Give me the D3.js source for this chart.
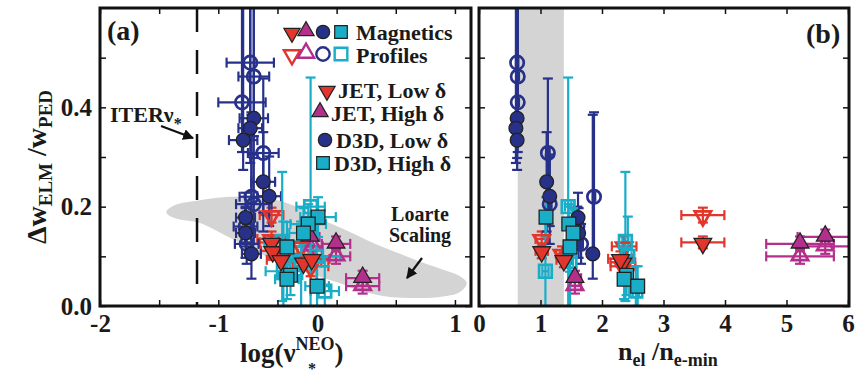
<!DOCTYPE html>
<html>
<head>
<meta charset="utf-8">
<script src="https://cdn.jsdelivr.net/npm/d3@7"></script>
<style>
  body { margin: 0; background: #fff; }
  text { font-family: "Liberation Serif", "Times New Roman", serif; font-weight: bold; fill: #1a1a1a; }
</style>
</head>
<body>
<svg id="chart" width="858" height="377"></svg>
<script>
// rows: [log nu*, ne/ne-min, dW/W, err log nu, err ne, err dW low, err dW high]
const jetLowMag = [
  [-0.55, 3.64, 0.128, 0.10, 0.35, 0.012, 0.012],
  [-0.54, 1.02, 0.111, 0.10, 0.10, 0.015, 0.015],
  [-0.47, 1.38, 0.093, 0.12, 0.12, 0.015, 0.015],
  [-0.28, 2.34, 0.088, 0.15, 0.20, 0.015, 0.015],
  [-0.21, 2.30, 0.095, 0.15, 0.20, 0.015, 0.015]
];
const jetLowProf = [
  [-0.55, 3.64, 0.183, 0.10, 0.35, 0.015, 0.015],
  [-0.55, 1.02, 0.135, 0.12, 0.10, 0.015, 0.015],
  [-0.45, 1.35, 0.105, 0.12, 0.10, 0.015, 0.015],
  [-0.30, 2.36, 0.120, 0.18, 0.20, 0.020, 0.020],
  [-0.22, 2.34, 0.080, 0.15, 0.20, 0.020, 0.020]
];
const jetHighMag = [
  [-0.225, 5.63, 0.139, 0.08, 0.45, 0.015, 0.015],
  [-0.005, 5.22, 0.125, 0.12, 0.55, 0.015, 0.015],
  [0.22, 1.56, 0.056, 0.14, 0.10, 0.015, 0.015]
];
const jetHighProf = [
  [-0.20, 5.63, 0.120, 0.08, 0.45, 0.015, 0.015],
  [-0.005, 5.22, 0.100, 0.12, 0.55, 0.015, 0.015],
  [0.22, 1.56, 0.040, 0.14, 0.10, 0.015, 0.015]
];
const d3dLowMag = [
  [-0.70, 0.62, 0.378, 0.12, 0.02, 0.08, 0.30],
  [-0.73, 0.60, 0.358, 0.10, 0.02, 0.07, 0.30],
  [-0.79, 0.62, 0.334, 0.12, 0.02, 0.06, 0.30],
  [-0.62, 1.10, 0.250, 0.10, 0.02, 0.10, 0.10],
  [-0.57, 1.15, 0.221, 0.10, 0.02, 0.06, 0.08],
  [-0.77, 1.61, 0.178, 0.08, 0.02, 0.05, 0.05],
  [-0.77, 1.62, 0.147, 0.08, 0.02, 0.05, 0.05],
  [-0.72, 1.85, 0.105, 0.08, 0.02, 0.05, 0.28]
];
const d3dLowProf = [
  [-0.73, 0.62, 0.490, 0.20, 0.02, 0.15, 0.30],
  [-0.70, 0.63, 0.462, 0.13, 0.02, 0.12, 0.20],
  [-0.80, 0.63, 0.410, 0.20, 0.02, 0.10, 0.20],
  [-0.62, 1.12, 0.308, 0.13, 0.03, 0.12, 0.15],
  [-0.70, 1.15, 0.205, 0.15, 0.03, 0.08, 0.10],
  [-0.72, 1.87, 0.220, 0.10, 0.02, 0.12, 0.17],
  [-0.77, 1.60, 0.160, 0.10, 0.03, 0.04, 0.04],
  [-0.76, 1.66, 0.125, 0.10, 0.03, 0.04, 0.04]
];
const d3dHighMag = [
  [-0.157, 1.09, 0.179, 0.15, 0.05, 0.04, 0.04],
  [-0.24, 1.46, 0.165, 0.15, 0.05, 0.04, 0.04],
  [-0.28, 1.53, 0.147, 0.12, 0.05, 0.05, 0.05],
  [-0.42, 1.48, 0.119, 0.12, 0.05, 0.05, 0.05],
  [-0.39, 2.40, 0.062, 0.10, 0.05, 0.04, 0.04],
  [-0.42, 2.36, 0.054, 0.10, 0.05, 0.04, 0.04],
  [-0.165, 2.58, 0.040, 0.10, 0.05, 0.04, 0.04]
];
const d3dHighProf = [
  [-0.22, 1.45, 0.200, 0.12, 0.05, 0.22, 0.26],
  [-0.46, 2.38, 0.130, 0.15, 0.05, 0.12, 0.14],
  [-0.17, 2.42, 0.100, 0.20, 0.06, 0.06, 0.08],
  [-0.30, 1.48, 0.090, 0.20, 0.05, 0.09, 0.08],
  [-0.45, 1.08, 0.070, 0.15, 0.05, 0.07, 0.10],
  [-0.10, 2.55, 0.030, 0.12, 0.05, 0.03, 0.05]
];
const legendNames = ["JET, Low \u03b4", "JET, High \u03b4", "D3D, Low \u03b4", "D3D, High \u03b4"];
const xTicksA = [-2, -1.5, -1, -0.5, 0, 0.5, 1];
const xTicksB = [0, 1, 2, 3, 4, 5, 6];
const yTicks = [0, 0.1, 0.2, 0.3, 0.4, 0.5];
const iterNu = -1.18;
const densityBand = [0.63, 1.38];
// outline of the Loarte scaling region (log nu, dW/W)
const loarte = [
  [-1.44, 0.189], [-1.37, 0.203], [-1.155, 0.213], [-0.96, 0.219], [-0.73, 0.219],
  [-0.50, 0.213], [-0.31, 0.197], [-0.115, 0.173], [0.113, 0.149], [0.308, 0.127],
  [0.536, 0.105], [0.73, 0.087], [0.916, 0.072], [1.043, 0.06], [1.10, 0.046],
  [1.043, 0.028], [0.874, 0.018], [0.73, 0.016], [0.451, 0.018], [0.24, 0.028],
  [0.029, 0.046], [-0.183, 0.062], [-0.394, 0.079], [-0.605, 0.101], [-0.817, 0.127],
  [-1.028, 0.153], [-1.155, 0.167], [-1.37, 0.177]
];

const series = [
  { mag: jetLowMag, prof: jetLowProf, color: "#e2352b", shape: "down" },
  { mag: jetHighMag, prof: jetHighProf, color: "#b32f8c", shape: "up" },
  { mag: d3dLowMag, prof: d3dLowProf, color: "#27318a", shape: "circle" },
  { mag: d3dHighMag, prof: d3dHighProf, color: "#19adc8", shape: "square" }
];

const svg = d3.select("#chart");
const y = d3.scaleLinear().domain([0, 0.6]).range([306, 8]);
const xa = d3.scaleLinear().domain([-2, 1.14]).range([100, 471.5]);
const xb = d3.scaleLinear().domain([0, 6]).range([479, 848]);

function symbolPath(shape, big) {
  if (shape == "circle") return d3.symbol(d3.symbolCircle, big ? 150 : 140)();
  if (shape == "square") return d3.symbol(d3.symbolSquare, big ? 190 : 160)();
  return d3.symbol(d3.symbolTriangle, big ? 135 : 115)();
}
function symTransform(shape, px, py) {
  if (shape == "down") return "translate(" + px + "," + (py + 1) + ") rotate(180)";
  if (shape == "up") return "translate(" + px + "," + (py - 1) + ")";
  return "translate(" + px + "," + py + ")";
}

function drawPanel(x, col, ecol, ticks, left, right, clipId) {
  svg.append("clipPath").attr("id", clipId).append("rect")
    .attr("x", left).attr("y", 8).attr("width", right - left).attr("height", 298);
  const g = svg.append("g").attr("clip-path", "url(#" + clipId + ")");

  if (clipId == "clipA") {
    g.append("path").datum(loarte)
      .attr("d", d3.line().x(d => xa(d[0])).y(d => y(d[1])).curve(d3.curveCatmullRomClosed))
      .attr("fill", "#d4d4d4");
    g.append("line").attr("x1", xa(iterNu)).attr("x2", xa(iterNu)).attr("y1", 8).attr("y2", 306)
      .attr("stroke", "#111").attr("stroke-width", 2.5).attr("stroke-dasharray", "24,18");
  } else {
    g.append("rect").attr("x", xb(densityBand[0])).attr("width", xb(densityBand[1]) - xb(densityBand[0]))
      .attr("y", 8).attr("height", 298).attr("fill", "#d4d4d4");
  }

  // error bars
  series.forEach(s => {
    [s.prof, s.mag].forEach(rows => {
      rows.forEach(r => {
        const px = x(r[col]), py = y(r[2]);
        const x0 = x(r[col] - r[ecol]), x1 = x(r[col] + r[ecol]);
        const y0 = y(r[2] - r[5]), y1 = y(r[2] + r[6]);
        const eb = g.append("g").attr("stroke", s.color).attr("stroke-width", 2.2).attr("fill", "none");
        eb.append("line").attr("x1", x0).attr("x2", x1).attr("y1", py).attr("y2", py);
        eb.append("line").attr("x1", x0).attr("x2", x0).attr("y1", py - 5).attr("y2", py + 5);
        eb.append("line").attr("x1", x1).attr("x2", x1).attr("y1", py - 5).attr("y2", py + 5);
        eb.append("line").attr("x1", px).attr("x2", px).attr("y1", y0).attr("y2", y1);
        eb.append("line").attr("x1", px - 5).attr("x2", px + 5).attr("y1", y0).attr("y2", y0);
        eb.append("line").attr("x1", px - 5).attr("x2", px + 5).attr("y1", y1).attr("y2", y1);
      });
    });
  });
  // profile (open) symbols
  series.forEach(s => {
    g.selectAll(null).data(s.prof).enter().append("path")
      .attr("d", symbolPath(s.shape, false))
      .attr("transform", d => symTransform(s.shape, x(d[col]), y(d[2])))
      .attr("fill", "none").attr("stroke", s.color).attr("stroke-width", 2.7);
  });
  // magnetics (filled) symbols
  series.forEach(s => {
    g.selectAll(null).data(s.mag).enter().append("path")
      .attr("d", symbolPath(s.shape, true))
      .attr("transform", d => symTransform(s.shape, x(d[col]), y(d[2])))
      .attr("fill", s.color).attr("stroke", "#222").attr("stroke-width", 1.3);
  });

  // axes with inward ticks
  const fmt = d => Number.isInteger(d) ? d : "";
  const bx = svg.append("g").attr("transform", "translate(0,306)")
    .call(d3.axisBottom(x).tickValues(ticks).tickSize(-6).tickPadding(8).tickFormat(fmt));
  svg.append("g").attr("transform", "translate(0,8)")
    .call(d3.axisTop(x).tickValues(ticks).tickSize(-6).tickFormat(""));
  svg.append("g").attr("transform", "translate(" + left + ",0)")
    .call(d3.axisLeft(y).tickValues(yTicks).tickSize(-6).tickPadding(8)
      .tickFormat(d => clipId == "clipA" && Math.round(d * 10) % 2 == 0 ? d.toFixed(1) : ""));
  svg.append("g").attr("transform", "translate(" + right + ",0)")
    .call(d3.axisRight(y).tickValues(yTicks).tickSize(-6).tickFormat(""));
  svg.selectAll(".domain").remove();
  svg.selectAll(".tick line").attr("stroke", "#111").attr("stroke-width", 1.5);
  svg.selectAll(".tick text").attr("font-size", 25).attr("font-family", null).attr("fill", "#1a1a1a");
  if (clipId == "clipA") bx.selectAll(".tick text").filter(d => d === 0).attr("dx", -19);

  svg.append("rect").attr("x", left).attr("y", 8).attr("width", right - left).attr("height", 298)
    .attr("fill", "none").attr("stroke", "#111").attr("stroke-width", 3);
}

drawPanel(xa, 0, 3, xTicksA, 100, 471, "clipA");
drawPanel(xb, 1, 4, xTicksB, 479, 849, "clipB");

// panel labels
svg.append("text").attr("x", 107).attr("y", 40).attr("font-size", 28).text("(a)");
svg.append("text").attr("x", 806).attr("y", 43).attr("font-size", 28).text("(b)");

// ITER annotation
svg.append("text").attr("x", 110).attr("y", 122).attr("font-size", 22).text("ITER\u03bd")
  .append("tspan").attr("font-size", 16).attr("dy", 7).text("*");
svg.append("defs").append("marker").attr("id", "arr").attr("viewBox", "0 0 10 10")
  .attr("refX", 9).attr("refY", 5).attr("markerWidth", 5).attr("markerHeight", 5).attr("orient", "auto")
  .append("path").attr("d", "M0,0L10,5L0,10z").attr("fill", "#111");
svg.append("line").attr("x1", 161).attr("y1", 126).attr("x2", 193).attr("y2", 138)
  .attr("stroke", "#111").attr("stroke-width", 2.2).attr("marker-end", "url(#arr)");

// Loarte annotation
svg.append("text").attr("x", 420).attr("y", 221).attr("font-size", 20).attr("text-anchor", "middle").text("Loarte");
svg.append("text").attr("x", 420).attr("y", 242).attr("font-size", 20).attr("text-anchor", "middle").text("Scaling");
svg.append("line").attr("x1", 422).attr("y1", 258).attr("x2", 407).attr("y2", 278)
  .attr("stroke", "#111").attr("stroke-width", 2.2).attr("marker-end", "url(#arr)");

// legend
const lg = svg.append("g");
series.forEach((s, i) => {
  const px = [292, 306, 323, 341][i];
  lg.append("path").attr("d", symbolPath(s.shape, false)).attr("transform", symTransform(s.shape, px, 32))
    .attr("fill", s.color).attr("stroke", "#222").attr("stroke-width", 1.2);
  lg.append("path").attr("d", symbolPath(s.shape, false)).attr("transform", symTransform(s.shape, px, 54))
    .attr("fill", "none").attr("stroke", s.color).attr("stroke-width", 2.4);
});
lg.append("text").attr("x", 356).attr("y", 40).attr("font-size", 22).text("Magnetics");
lg.append("text").attr("x", 356).attr("y", 63).attr("font-size", 22).text("Profiles");
legendNames.forEach((nm, i) => {
  const sy = [90, 113, 140, 163][i];
  const sx = [327, 320, 325, 323][i];
  const sh = series[i].shape;
  lg.append("path").attr("d", symbolPath(sh, false)).attr("transform", symTransform(sh, sx, sy))
    .attr("fill", series[i].color).attr("stroke", "#222").attr("stroke-width", 1.2);
  lg.append("text").attr("x", sx + 11).attr("y", sy + 8).attr("font-size", 22).text(nm);
});

// axis titles
const yt = svg.append("text").attr("transform", "translate(46,167) rotate(-90)")
  .attr("text-anchor", "middle").attr("font-size", 28);
yt.append("tspan").text("\u0394w");
yt.append("tspan").attr("font-size", 19).attr("dy", 6).text("ELM");
yt.append("tspan").attr("dy", -6).text(" /w");
yt.append("tspan").attr("font-size", 19).attr("dy", 6).text("PED");

const xt = svg.append("text").attr("x", 240).attr("y", 362).attr("font-size", 27);
xt.append("tspan").text("log(\u03bd");
xt.append("tspan").attr("font-size", 18).attr("dy", -12).text("NEO");
xt.append("tspan").attr("dy", 12).text(")");
svg.append("text").attr("x", 308).attr("y", 374).attr("font-size", 16).text("*");

const xt2 = svg.append("text").attr("x", 618).attr("y", 360).attr("font-size", 26);
xt2.append("tspan").text("n");
xt2.append("tspan").attr("font-size", 18).attr("dy", 6).text("el");
xt2.append("tspan").attr("dy", -6).text(" /n");
xt2.append("tspan").attr("font-size", 18).attr("dy", 6).text("e-min");
</script>
</body>
</html>
